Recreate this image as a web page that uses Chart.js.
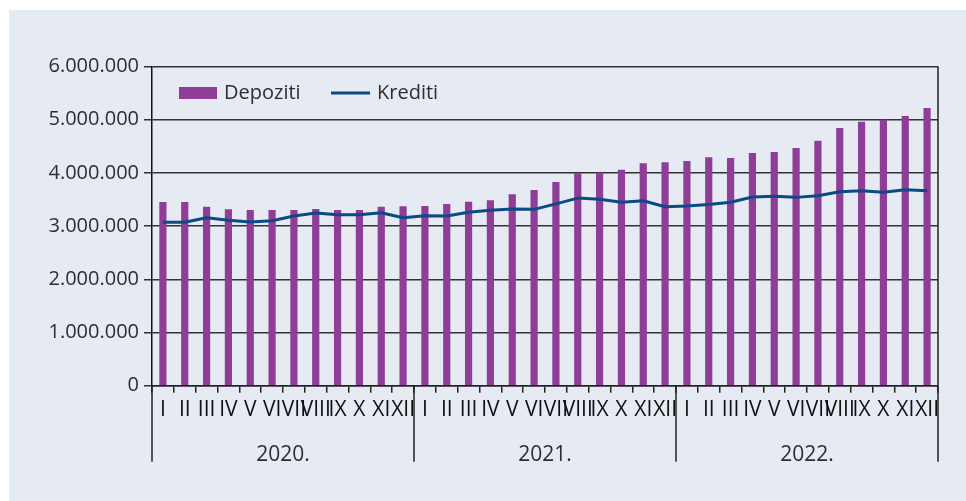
<!DOCTYPE html>
<html>
<head>
<meta charset="utf-8">
<script src="https://cdn.jsdelivr.net/npm/chart.js@4/dist/chart.umd.min.js"></script>
<style>
  html, body { margin: 0; padding: 0; background: #ffffff; }
  canvas { display: block; }
</style>
</head>
<body>
<canvas id="chart" width="966" height="501"></canvas>
<script>
// Data
const years = ['2020.', '2021.', '2022.'];
const months = ['I', 'II', 'III', 'IV', 'V', 'VI', 'VII', 'VIII', 'IX', 'X', 'XI', 'XII'];

const depoziti = [
    3453000, 3453000, 3365000, 3316000, 3303000, 3303000, 3303000, 3321000, 3303000, 3303000, 3365000, 3372000,
    3378000, 3415000, 3459000, 3485000, 3598000, 3680000, 3830000, 3992000, 3992000, 4060000, 4180000, 4199000,
    4224000, 4293000, 4280000, 4374000, 4393000, 4468000, 4605000, 4844000, 4962000, 5000000, 5070000, 5220000
];
const krediti = [
    3071000, 3071000, 3158000, 3109000, 3077000, 3102000, 3190000, 3246000, 3214000, 3214000, 3252000, 3158000,
    3195000, 3190000, 3259000, 3297000, 3321000, 3315000, 3417000, 3526000, 3506000, 3447000, 3477000, 3363000,
    3378000, 3405000, 3447000, 3546000, 3559000, 3540000, 3571000, 3647000, 3665000, 3635000, 3684000, 3665000
];
const yTicks = [0, 1000000, 2000000, 3000000, 4000000, 5000000, 6000000];

const labels = [];
years.forEach(y => months.forEach(m => labels.push(y + ' ' + m)));

const FONT = "'Open Sans', 'DejaVu Sans', sans-serif";
const TEXT = '#2e2e2e';
const PURPLE = '#8e3e96';
const BLUE = '#0c4a86';

function formatThousands(v) {
    return String(v).replace(/\B(?=(\d{3})+(?!\d))/g, '.');
}

// Panel background
const panelPlugin = {
    id: 'panel',
    beforeDraw(chart) {
        const ctx = chart.ctx;
        ctx.save();
        ctx.fillStyle = '#ffffff';
        ctx.fillRect(0, 0, chart.width, chart.height);
        ctx.fillStyle = '#e6eaf2';
        ctx.fillRect(9, 10, chart.width - 9, chart.height - 10);
        ctx.restore();
    }
};

// Year groups below the month labels, plus right frame line
const yearAxisPlugin = {
    id: 'yearAxis',
    afterDraw(chart) {
        const ctx = chart.ctx;
        const x = chart.scales.x;
        const area = chart.chartArea;
        const step = x.getPixelForValue(1) - x.getPixelForValue(0);
        const sepBottom = area.bottom + 76;
        ctx.save();
        ctx.strokeStyle = '#222';
        ctx.lineWidth = 1.5;
        for (let k = 0; k <= years.length; k++) {
            const idx = k * months.length;
            const px = x.getPixelForValue(Math.min(idx, labels.length - 1)) + (idx >= labels.length ? step / 2 : -step / 2);
            ctx.beginPath();
            ctx.moveTo(px, k === years.length ? area.top : area.bottom);
            ctx.lineTo(px, sepBottom);
            ctx.stroke();
        }
        ctx.fillStyle = TEXT;
        ctx.font = '21px ' + FONT;
        ctx.textAlign = 'center';
        ctx.textBaseline = 'middle';
        years.forEach((y, k) => {
            const a = x.getPixelForValue(k * months.length) - step / 2;
            const b = x.getPixelForValue((k + 1) * months.length - 1) + step / 2;
            ctx.fillText(y, (a + b) / 2, area.bottom + 69);
        });
        ctx.restore();
    }
};

// Legend inside the plot area
const innerLegendPlugin = {
    id: 'innerLegend',
    afterDraw(chart) {
        const ctx = chart.ctx;
        const area = chart.chartArea;
        const ds = chart.data.datasets;
        const cy = area.top + 26.5;
        let cx = area.left + 27;
        ctx.save();
        ctx.font = '20px ' + FONT;
        ctx.textBaseline = 'middle';
        // bar item
        ctx.fillStyle = ds[0].backgroundColor;
        ctx.fillRect(cx, cy - 6, 38, 12);
        ctx.fillStyle = TEXT;
        ctx.fillText(ds[0].label, cx + 45, cy);
        // line item
        cx = area.left + 179;
        ctx.strokeStyle = ds[1].borderColor;
        ctx.lineWidth = 3;
        ctx.beginPath();
        ctx.moveTo(cx, cy);
        ctx.lineTo(cx + 39, cy);
        ctx.stroke();
        ctx.fillText(ds[1].label, cx + 46, cy);
        ctx.restore();
    }
};

new Chart(document.getElementById('chart').getContext('2d'), {
    type: 'bar',
    data: {
        labels: labels,
        datasets: [{
            type: 'bar',
            label: 'Depoziti',
            data: depoziti,
            backgroundColor: PURPLE,
            borderWidth: 0,
            barPercentage: 0.33,
            categoryPercentage: 1.0,
            order: 2
        }, {
            type: 'line',
            label: 'Krediti',
            data: krediti,
            borderColor: BLUE,
            backgroundColor: BLUE,
            borderWidth: 3,
            pointRadius: 0,
            tension: 0,
            borderJoinStyle: 'round',
            order: 1
        }]
    },
    options: {
        responsive: false,
        animation: false,
        layout: {
            padding: { top: 66.5, right: 28, bottom: 0, left: 0 }
        },
        scales: {
            x: {
                offset: true,
                afterFit: function(scale) { scale.height = 115.3; },
                grid: {
                    offset: true,
                    drawOnChartArea: false,
                    drawTicks: true,
                    tickLength: 7,
                    color: '#222',
                    lineWidth: 1.5
                },
                border: { display: true, color: '#222', width: 1.5 },
                ticks: {
                    autoSkip: false,
                    maxRotation: 0,
                    minRotation: 0,
                    padding: 5,
                    color: '#111',
                    font: { family: FONT, size: 21 },
                    callback: function(value, index) { return months[index % months.length]; }
                }
            },
            y: {
                min: yTicks[0],
                max: yTicks[yTicks.length - 1],
                afterFit: function(scale) { scale.width = 152; },
                afterBuildTicks: function(scale) { scale.ticks = yTicks.map(v => ({ value: v })); },
                grid: {
                    color: '#333',
                    lineWidth: 1.5,
                    drawTicks: true,
                    tickLength: 8
                },
                border: { display: true, color: '#111', width: 1.5 },
                ticks: {
                    padding: 5,
                    color: TEXT,
                    font: { family: FONT, size: 20 },
                    callback: function(value) { return formatThousands(value); }
                }
            }
        },
        plugins: {
            legend: { display: false },
            tooltip: { enabled: false }
        }
    },
    plugins: [panelPlugin, yearAxisPlugin, innerLegendPlugin]
});
</script>
</body>
</html>
